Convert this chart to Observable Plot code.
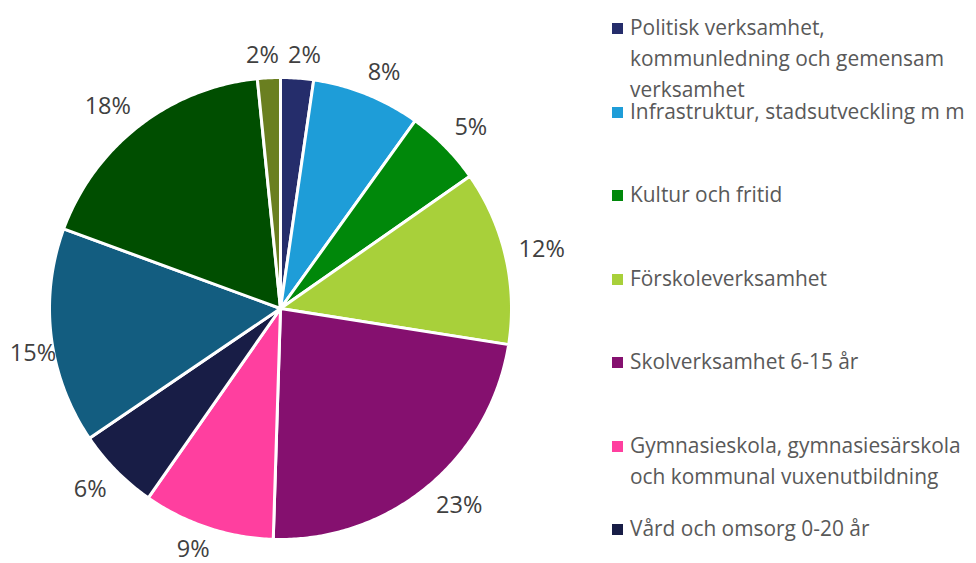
<!DOCTYPE html>
<html><head><meta charset="utf-8">
<script src="https://cdn.jsdelivr.net/npm/d3@7"></script>
<script src="https://cdn.jsdelivr.net/npm/@observablehq/plot@0.6"></script>
<style>
html,body{margin:0;padding:0;background:#fff;overflow:hidden;width:976px;height:563px}
#wrap{position:relative;width:976px;height:563px;overflow:hidden}
#legend{position:absolute;left:612px;top:0;width:364px;font-family:"Open Sans",sans-serif;color:#595959}
.item{position:absolute;left:0;white-space:pre;font-size:20.9px;line-height:31px}
.sw{position:absolute;left:0;top:11px;width:11px;height:11px}
.tx{position:absolute;left:18px;top:0}
</style></head><body><div id="wrap"><div id="chart"></div><div id="legend"></div></div>
<script>
const categories = [
  "Politisk verksamhet,\nkommunledning och gemensam\nverksamhet",
  "Infrastruktur, stadsutveckling m m",
  "Kultur och fritid",
  "Förskoleverksamhet",
  "Skolverksamhet 6-15 år",
  "Gymnasieskola, gymnasiesärskola\noch kommunal vuxenutbildning",
  "Vård och omsorg 0-20 år",
  "Stöd till personer med\nfunktionsnedsättning",
  "Vård och omsorg om äldre",
  "Övrig verksamhet"
];
const shares = [2.3, 7.6, 5.4, 12.2, 23.0, 9.2, 5.8, 15.1, 17.8, 1.6];
const pctLabels = ["2%", "8%", "5%", "12%", "23%", "9%", "6%", "15%", "18%", "2%"];
const colors = ["#252d6b", "#1e9dd8", "#00880a", "#a8d03a", "#85106f", "#ff3f9f", "#181d46", "#135d80", "#004e00", "#6a7f20"];

const R = 231, CX = 280, CY = 308;
const arcs = d3.pie().sort(null).value(d => d)(shares);
const polyRows = [];
arcs.forEach((a, i) => {
  const cat = categories[i];
  const steps = Math.max(2, Math.ceil((a.endAngle - a.startAngle) / 0.01));
  polyRows.push({cat, x: 0, y: 0});
  for (let k = 0; k <= steps; k++) {
    const t = a.startAngle + (a.endAngle - a.startAngle) * k / steps;
    polyRows.push({cat, x: Math.sin(t), y: Math.cos(t)});
  }
  polyRows.push({cat, x: 0, y: 0});
});
// outside-end label placement, kept inside the picture, overlaps pushed apart
const gap = 14, gh = 17, edge = 10, minGap = 10;
const clamp1 = v => Math.max(-1, Math.min(1, v));
const boxes = arcs.map((a, i) => {
  const m = (a.startAngle + a.endAngle) / 2;
  const s = Math.sin(m), c = Math.cos(m);
  const w = (pctLabels[i].length - 1) * 13 + 19;
  let px = s * (R + gap) + clamp1(2 * s) * w / 2;
  let py = c * (R + gap) + clamp1(2 * c) * gh / 2;
  if (CX + px - w / 2 < edge) {
    px = edge + w / 2 - CX;
    const ex = Math.abs(px) - w / 2;
    const ty = Math.sqrt(Math.max(0, (R - 3) ** 2 - ex * ex));
    py = Math.sign(c) * (ty + gh / 2);
  }
  return {px, py, w};
});
for (let i = 0; i < boxes.length; i++) {
  const A = boxes[i], B = boxes[(i + 1) % boxes.length];
  if (Math.abs(A.py - B.py) < gh) {
    const [L, Rt] = A.px < B.px ? [A, B] : [B, A];
    const need = (L.px + L.w / 2 + minGap) - (Rt.px - Rt.w / 2);
    if (need > 0) { L.px -= need / 2; Rt.px += need / 2; }
  }
}
const labelRows = boxes.map((b, i) => ({label: pctLabels[i], x: b.px / R, y: b.py / R}));

const chart = Plot.plot({
  width: 976, height: 563, margin: 0,
  style: {background: "transparent", fontFamily: "'Open Sans', sans-serif"},
  x: {domain: [-1, 1], range: [CX - R, CX + R], axis: null},
  y: {domain: [-1, 1], range: [CY + R, CY - R], axis: null},
  color: {domain: categories, range: colors},
  marks: [
    Plot.line(polyRows, {x: "x", y: "y", z: "cat", fill: "cat", stroke: "white", strokeWidth: 3, strokeLinejoin: "round", curve: "linear"}),
    Plot.text(labelRows, {x: "x", y: "y", text: "label", fontSize: 23.5, fill: "#404040", textAnchor: "middle", lineAnchor: "middle"})
  ]
});
document.getElementById("chart").appendChild(chart);

const legend = document.getElementById("legend");
categories.forEach((c, i) => {
  const it = document.createElement("div");
  it.className = "item";
  it.style.top = (12 + i * 83.5) + "px";
  const sw = document.createElement("div");
  sw.className = "sw";
  sw.style.background = colors[i];
  const tx = document.createElement("div");
  tx.className = "tx";
  tx.textContent = c;
  it.appendChild(sw); it.appendChild(tx);
  legend.appendChild(it);
});
</script></body></html>
